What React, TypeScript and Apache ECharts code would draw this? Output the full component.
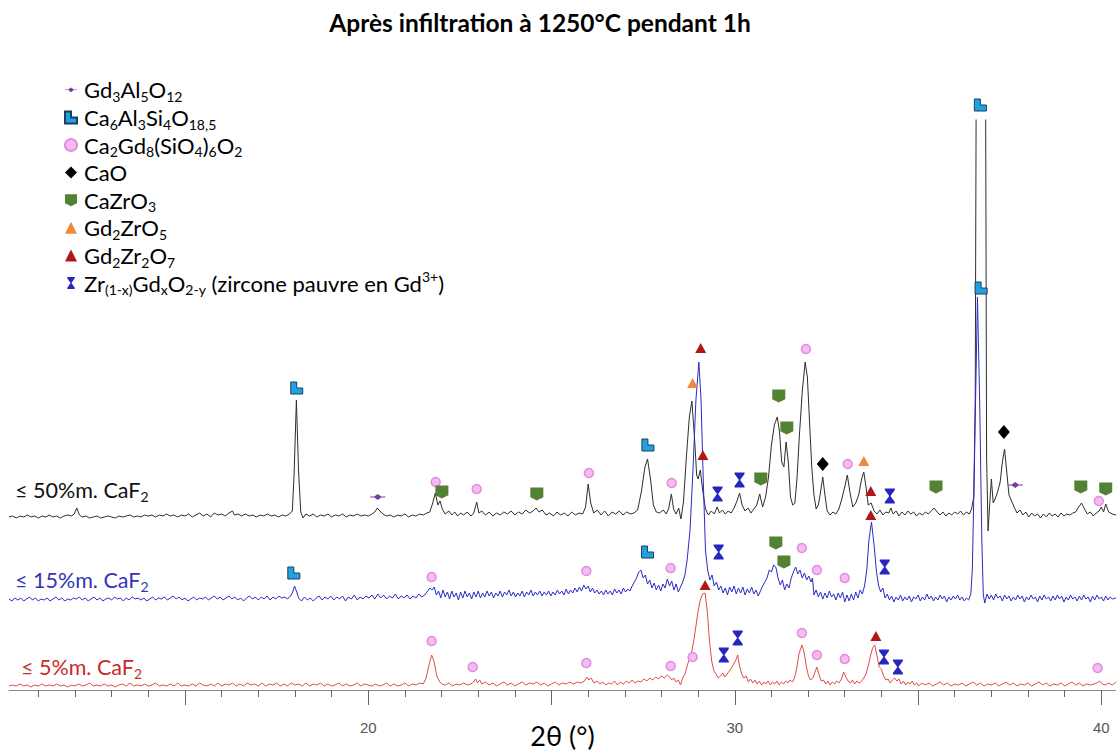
import React, { useEffect, useRef } from 'react';
import * as echarts from 'echarts';

const FONT = 'Lato, "Open Sans", sans-serif';

// vertical offsets of the three stacked patterns (same units as intensities)
const BLACK_OFFSET = 173;
const BLUE_OFFSET = 90;
const RED_OFFSET = 4;

// [2θ, intensity above own baseline]
const trace50: number[][] = [
  [10.2,0],[10.3,1],[10.4,-1],[10.5,1],[10.6,0],[10.7,2],[10.8,0],[10.9,1],[11.0,-1],[11.1,1],[11.2,0],[11.3,2],[11.4,0],[11.5,1],[11.6,-1],[11.7,1],[11.8,2],[11.9,1],[11.98,3],[12.05,9],[12.12,2],[12.2,0],[12.3,1],[12.4,-1],[12.5,0],[12.6,1],[12.7,-1],[12.8,0],[12.9,1],[13.0,0],[13.1,-1],[13.2,1],[13.3,0],[13.4,1],[13.5,2],[13.6,0],[13.7,1],[13.8,0],[13.9,2],[14.0,1],[14.1,2],[14.2,0],[14.3,2],[14.4,1],[14.5,3],[14.6,1],[14.7,2],[14.8,0],[14.9,2],[15.0,1],[15.1,3],[15.2,0],[15.3,2],[15.4,4],[15.5,1],[15.6,3],[15.7,0],[15.8,4],[15.9,2],[16.0,3],[16.1,1],[16.2,4],[16.3,6],[16.35,2],[16.45,3],[16.55,1],[16.65,3],[16.75,1],[16.85,2],[16.95,0],[17.05,2],[17.15,1],[17.25,3],[17.35,1],[17.45,2],[17.55,0],[17.65,2],[17.75,1],[17.85,3],[17.93,6],[17.98,45],[18.04,117],[18.1,45],[18.16,5],[18.22,-1],[18.3,3],
  [18.4,1],[18.5,3],[18.6,0],[18.7,2],[18.8,1],[18.9,3],[19.0,0],[19.1,2],[19.2,1],[19.3,3],[19.4,0],[19.5,2],[19.6,1],[19.7,3],[19.8,1],[19.9,2],[20.0,1],[20.1,3],[20.18,5],[20.25,9],[20.32,6],[20.4,3],[20.5,1],[20.6,2],[20.7,0],[20.8,2],[20.9,1],[21.0,3],[21.1,0],[21.2,2],[21.3,1],[21.4,3],[21.5,2],[21.6,4],[21.68,5],[21.76,14],[21.83,24],[21.9,12],[21.96,16],[22.02,8],[22.1,3],[22.2,6],[22.28,2],[22.36,5],[22.44,1],[22.52,4],[22.6,2],[22.7,5],[22.8,1],[22.88,4],[22.96,15],[23.02,4],[23.1,6],[23.2,2],[23.3,5],[23.4,1],[23.5,4],[23.6,2],[23.7,5],[23.8,3],[23.9,6],[24.0,2],[24.1,5],[24.2,3],[24.3,7],[24.4,4],[24.5,6],[24.58,9],[24.66,5],[24.75,7],[24.85,2],[24.95,4],[25.05,1],[25.15,5],[25.25,2],[25.35,4],[25.45,1],[25.55,5],[25.65,2],[25.75,4],[25.85,3],[25.93,10],[26.0,33],[26.07,14],[26.15,4],[26.25,7],[26.35,2],[26.45,6],[26.55,1],[26.65,5],[26.75,3],[26.85,6],[26.95,2],[27.05,5],[27.15,3],[27.25,4],[27.35,7],[27.45,25],[27.55,50],[27.62,58],[27.7,38],[27.78,12],[27.86,5],[27.95,4],[28.05,7],[28.13,3],[28.2,9],[28.27,23],[28.33,8],[28.4,3],[28.47,9],[28.53,-2],[28.6,15],[28.68,60],[28.76,100],[28.83,116],[28.9,80],[28.96,42],[29.0,38],[29.06,47],[29.12,28],[29.2,8],[29.28,2],[29.36,6],[29.44,3],[29.52,10],[29.58,4],[29.66,7],[29.74,3],[29.82,6],[29.9,4],[29.98,9],[30.06,16],[30.13,24],[30.2,12],[30.28,6],[30.36,9],[30.44,4],[30.52,8],[30.6,12],[30.68,23],[30.76,10],[30.84,20],[30.92,40],[31.0,72],[31.08,92],[31.16,100],[31.22,85],[31.28,55],[31.34,50],[31.4,75],[31.46,55],[31.52,20],[31.58,12],[31.64,14],[31.7,40],[31.76,80],[31.84,125],[31.92,155],[31.98,140],[32.04,95],[32.1,50],[32.16,22],[32.22,8],[32.28,12],[32.34,25],[32.4,40],[32.46,22],[32.52,6],[32.6,2],[32.68,5],[32.76,3],[32.84,8],[32.92,18],[33.0,30],[33.07,42],[33.14,25],[33.22,10],[33.3,14],[33.38,22],[33.46,38],[33.52,45],[33.58,30],[33.64,12],[33.72,14],[33.8,6],[33.88,3],[33.96,7],[34.04,2],[34.12,5],[34.2,4],[34.26,9],[34.32,3],[34.4,6],[34.48,1],[34.56,5],[34.64,2],[34.72,6],[34.8,3],[34.88,5],[34.96,1],[35.04,4],[35.12,2],[35.2,5],[35.28,3],[35.36,6],[35.44,9],[35.52,5],[35.6,2],[35.68,5],[35.76,1],[35.84,4],[35.92,2],[36.0,5],[36.08,3],[36.16,6],[36.24,2],[36.32,5],[36.4,3],[36.46,8],[36.52,20],[36.56,120],[36.6,600],[36.83,600],[36.87,60],[36.91,-14],[36.95,10],[37.0,38],[37.05,14],[37.1,18],[37.17,25],[37.24,35],[37.3,55],[37.36,68],[37.42,45],[37.48,22],[37.55,16],[37.62,10],[37.7,4],[37.78,7],[37.86,2],[37.94,5],[38.02,0],[38.1,4],[38.18,1],[38.26,3],[38.34,-1],[38.42,3],[38.5,0],[38.58,4],[38.66,1],[38.74,3],[38.82,0],[38.9,4],[38.98,1],[39.06,3],[39.14,2],[39.22,4],[39.3,5],[39.38,10],[39.46,14],[39.54,8],[39.62,3],[39.7,5],[39.78,1],[39.86,4],[39.94,6],[40.0,10],[40.06,5],[40.12,13],[40.2,5],[40.3,3],[40.4,2]
];

const trace15: number[][] = [
  [10.2,1],[10.28,-1],[10.36,2],[10.44,0],[10.52,2],[10.6,-1],[10.68,1],[10.76,3],[10.84,0],[10.92,2],[11.0,-1],[11.08,1],[11.16,0],[11.24,2],[11.32,-1],[11.4,1],[11.48,3],[11.56,0],[11.64,2],[11.72,-1],[11.8,1],[11.88,0],[11.96,2],[12.04,1],[12.12,3],[12.2,0],[12.28,2],[12.36,-1],[12.44,1],[12.52,3],[12.6,0],[12.68,2],[12.76,-1],[12.84,1],[12.92,2],[13.0,0],[13.08,3],[13.16,1],[13.24,2],[13.32,-1],[13.4,2],[13.48,0],[13.56,3],[13.64,1],[13.72,2],[13.8,0],[13.88,2],[13.96,-1],[14.04,1],[14.12,3],[14.2,0],[14.28,2],[14.36,1],[14.44,3],[14.52,0],[14.6,2],[14.68,4],[14.76,1],[14.84,3],[14.92,0],[15.0,2],[15.08,-1],[15.16,1],[15.24,3],[15.32,0],[15.4,2],[15.48,1],[15.56,3],[15.64,0],[15.72,2],[15.8,4],[15.88,1],[15.96,3],[16.04,0],[16.12,2],[16.2,4],[16.28,1],[16.36,3],[16.44,0],[16.52,2],[16.6,-1],[16.68,2],[16.76,4],[16.84,1],[16.92,3],[17.0,0],[17.08,3],[17.16,1],[17.24,4],[17.32,0],[17.4,3],[17.48,1],[17.56,4],[17.64,2],[17.72,3],[17.8,1],[17.88,4],[17.94,8],[17.99,14],[18.05,8],[18.1,2],[18.18,-1],[18.26,3],[18.34,0],[18.42,2],[18.5,-1],[18.58,2],[18.66,4],[18.74,0],[18.82,3],[18.9,1],[18.98,4],[19.06,0],[19.14,3],[19.22,1],[19.3,4],[19.38,-1],[19.46,3],[19.54,1],[19.62,5],[19.7,0],[19.78,3],[19.86,1],[19.94,4],[20.02,2],[20.1,5],[20.18,1],[20.26,6],[20.34,2],[20.42,5],[20.5,1],[20.58,4],[20.66,2],[20.74,6],[20.82,1],[20.9,4],[20.98,2],[21.06,5],[21.14,1],[21.22,4],[21.3,2],[21.38,6],[21.46,3],[21.54,5],[21.62,9],[21.68,12],[21.74,10],[21.8,13],[21.86,5],[21.92,9],[21.98,2],[22.04,10],[22.1,3],[22.16,8],[22.22,1],[22.28,9],[22.34,3],[22.4,7],[22.46,0],[22.52,8],[22.58,2],[22.64,9],[22.7,3],[22.76,7],[22.82,1],[22.88,8],[22.94,3],[23.0,9],[23.06,2],[23.12,7],[23.18,3],[23.24,9],[23.3,4],[23.36,8],[23.42,2],[23.48,7],[23.54,4],[23.6,9],[23.66,3],[23.72,8],[23.78,5],[23.84,10],[23.9,4],[23.96,8],[24.02,3],[24.08,7],[24.14,4],[24.2,9],[24.26,3],[24.32,8],[24.38,5],[24.44,10],[24.5,4],[24.56,8],[24.62,5],[24.68,9],[24.74,4],[24.8,8],[24.86,5],[24.92,9],[24.98,4],[25.04,8],[25.1,5],[25.16,10],[25.22,6],[25.28,9],[25.34,5],[25.4,11],[25.46,6],[25.52,10],[25.58,7],[25.64,12],[25.7,8],[25.76,13],[25.82,9],[25.88,15],[25.94,11],[26.0,14],[26.06,8],[26.12,12],[26.18,7],[26.24,10],[26.3,6],[26.36,9],[26.42,5],[26.48,10],[26.54,6],[26.6,9],[26.66,5],[26.72,11],[26.78,7],[26.84,10],[26.9,6],[26.96,12],[27.02,8],[27.08,11],[27.14,9],[27.2,14],[27.26,18],[27.32,22],[27.38,28],[27.44,30],[27.5,22],[27.56,25],[27.62,16],[27.68,20],[27.74,12],[27.8,17],[27.86,10],[27.92,15],[27.98,9],[28.04,16],[28.1,12],[28.16,21],[28.22,14],[28.28,19],[28.34,10],[28.4,16],[28.46,8],[28.52,13],[28.58,18],[28.64,25],[28.7,40],[28.78,70],[28.86,130],[28.94,200],[29.02,238],[29.08,200],[29.14,120],[29.2,50],[29.26,30],[29.32,20],[29.38,25],[29.44,14],[29.5,18],[29.56,10],[29.62,14],[29.68,7],[29.74,12],[29.8,5],[29.86,13],[29.92,8],[29.98,14],[30.04,6],[30.1,12],[30.16,7],[30.22,13],[30.28,5],[30.34,11],[30.4,7],[30.46,13],[30.52,6],[30.58,10],[30.64,4],[30.7,9],[30.76,14],[30.82,18],[30.88,22],[30.94,30],[31.0,28],[31.06,35],[31.12,33],[31.18,22],[31.24,15],[31.3,20],[31.36,10],[31.42,16],[31.48,12],[31.54,22],[31.6,28],[31.66,33],[31.72,26],[31.78,30],[31.84,22],[31.9,27],[31.96,20],[32.02,24],[32.08,18],[32.12,22],[32.16,5],[32.22,10],[32.28,3],[32.34,8],[32.4,1],[32.46,7],[32.52,2],[32.58,9],[32.64,3],[32.7,6],[32.76,0],[32.82,7],[32.88,2],[32.94,8],[33.0,-2],[33.06,5],[33.12,-1],[33.18,6],[33.24,0],[33.3,8],[33.36,2],[33.42,10],[33.48,6],[33.54,14],[33.6,30],[33.66,60],[33.73,78],[33.8,55],[33.86,30],[33.92,15],[33.98,8],[34.04,12],[34.1,2],[34.16,6],[34.22,0],[34.28,4],[34.34,-2],[34.4,3],[34.46,0],[34.52,5],[34.58,-1],[34.64,3],[34.7,0],[34.76,4],[34.82,-2],[34.88,3],[34.94,1],[35.0,5],[35.06,-1],[35.12,3],[35.18,0],[35.24,6],[35.3,1],[35.36,4],[35.42,-1],[35.48,3],[35.54,0],[35.6,5],[35.66,1],[35.72,4],[35.78,-2],[35.84,3],[35.9,0],[35.96,4],[36.02,1],[36.08,5],[36.14,0],[36.2,3],[36.26,-1],[36.32,2],[36.38,0],[36.44,6],[36.48,30],[36.53,120],[36.62,303],[36.68,200],[36.74,60],[36.78,5],[36.82,-3],[36.88,6],[36.94,1],[37.0,5],[37.06,0],[37.12,6],[37.18,2],[37.24,4],[37.3,-1],[37.36,5],[37.42,1],[37.48,4],[37.54,-1],[37.6,3],[37.66,0],[37.72,5],[37.78,1],[37.84,4],[37.9,-2],[37.96,3],[38.02,0],[38.08,5],[38.14,1],[38.2,3],[38.26,-2],[38.32,4],[38.38,0],[38.44,5],[38.5,1],[38.56,3],[38.62,-1],[38.68,4],[38.74,0],[38.8,5],[38.86,1],[38.92,4],[38.98,-2],[39.04,3],[39.1,0],[39.16,5],[39.22,1],[39.28,3],[39.34,-1],[39.4,4],[39.46,0],[39.52,5],[39.58,1],[39.64,3],[39.7,-2],[39.76,4],[39.82,0],[39.88,5],[39.94,1],[40.0,3],[40.06,-1],[40.12,4],[40.18,0],[40.24,3],[40.3,1],[40.4,2]
];

const trace5: number[][] = [
  [10.2,0],[10.3,1],[10.4,0],[10.5,2],[10.6,0],[10.7,1],[10.8,-1],[10.9,1],[11.0,0],[11.1,2],[11.2,0],[11.3,1],[11.4,0],[11.5,2],[11.6,0],[11.7,1],[11.8,-1],[11.9,1],[12.0,0],[12.1,2],[12.2,0],[12.3,1],[12.4,3],[12.5,0],[12.6,1],[12.7,0],[12.8,2],[12.9,0],[13.0,1],[13.1,-1],[13.2,1],[13.3,2],[13.4,0],[13.5,3],[13.6,0],[13.7,1],[13.8,0],[13.9,2],[14.0,0],[14.1,1],[14.2,3],[14.3,0],[14.4,1],[14.5,0],[14.6,2],[14.7,0],[14.8,3],[14.9,0],[15.0,1],[15.1,0],[15.2,2],[15.3,0],[15.4,3],[15.5,1],[15.6,0],[15.7,2],[15.8,0],[15.9,3],[16.0,0],[16.1,2],[16.2,1],[16.3,3],[16.4,0],[16.5,2],[16.6,0],[16.7,3],[16.8,1],[16.9,2],[17.0,0],[17.1,3],[17.2,0],[17.3,2],[17.4,1],[17.5,3],[17.6,0],[17.7,2],[17.8,0],[17.9,3],[18.0,1],[18.1,2],[18.2,0],[18.3,3],[18.4,0],[18.5,2],[18.6,1],[18.7,3],[18.8,0],[18.9,2],[19.0,0],[19.1,1],[19.2,3],[19.3,0],[19.4,2],[19.5,0],[19.6,1],[19.7,3],[19.8,0],[19.9,2],[20.0,1],[20.1,0],[20.2,2],[20.3,0],[20.4,1],[20.5,3],[20.6,0],[20.7,2],[20.8,0],[20.9,1],[21.0,3],[21.1,0],[21.2,2],[21.3,1],[21.4,3],[21.5,2],[21.58,8],[21.65,20],[21.73,31],[21.8,24],[21.87,10],[21.95,4],[22.02,2],[22.1,1],[22.2,3],[22.3,0],[22.4,2],[22.5,1],[22.6,3],[22.7,1],[22.8,2],[22.87,4],[22.93,7],[22.98,3],[23.04,6],[23.1,2],[23.2,4],[23.3,1],[23.4,3],[23.5,0],[23.6,2],[23.7,4],[23.8,1],[23.9,3],[24.0,0],[24.1,2],[24.2,4],[24.3,1],[24.4,3],[24.5,2],[24.6,4],[24.7,1],[24.8,3],[24.9,0],[25.0,2],[25.1,4],[25.2,1],[25.3,3],[25.4,2],[25.5,4],[25.6,2],[25.7,4],[25.8,3],[25.9,5],[25.96,9],[26.02,6],[26.08,8],[26.16,3],[26.24,5],[26.32,2],[26.4,4],[26.48,1],[26.56,3],[26.64,2],[26.72,5],[26.8,1],[26.88,4],[26.96,2],[27.04,5],[27.12,3],[27.2,6],[27.28,3],[27.36,5],[27.44,4],[27.52,7],[27.6,5],[27.68,8],[27.76,6],[27.84,9],[27.92,7],[28.0,10],[28.08,8],[28.16,11],[28.22,9],[28.28,6],[28.34,8],[28.4,4],[28.46,6],[28.52,1],[28.58,8],[28.64,12],[28.7,20],[28.76,27],[28.82,33],[28.88,45],[28.94,60],[29.0,75],[29.06,86],[29.12,92],[29.19,93],[29.25,75],[29.31,45],[29.37,25],[29.43,15],[29.49,12],[29.55,8],[29.61,10],[29.67,13],[29.73,9],[29.79,12],[29.85,15],[29.91,18],[29.97,22],[30.03,26],[30.08,31],[30.13,20],[30.19,12],[30.25,8],[30.31,10],[30.37,4],[30.43,7],[30.49,3],[30.55,6],[30.61,2],[30.67,5],[30.73,1],[30.79,4],[30.85,2],[30.91,5],[30.97,1],[31.03,4],[31.09,2],[31.15,5],[31.21,1],[31.27,4],[31.33,2],[31.39,5],[31.45,3],[31.51,6],[31.57,4],[31.63,8],[31.69,18],[31.75,32],[31.83,41],[31.89,34],[31.95,20],[32.01,10],[32.07,6],[32.13,8],[32.19,14],[32.24,19],[32.3,11],[32.36,5],[32.42,6],[32.48,2],[32.54,5],[32.6,1],[32.66,4],[32.72,2],[32.78,5],[32.84,3],[32.91,7],[32.97,14],[33.03,9],[33.09,5],[33.15,3],[33.21,6],[33.27,2],[33.33,5],[33.39,3],[33.46,5],[33.52,8],[33.58,12],[33.64,20],[33.7,30],[33.76,38],[33.82,41],[33.88,30],[33.94,19],[34.0,17],[34.06,10],[34.12,6],[34.18,7],[34.24,3],[34.3,6],[34.36,8],[34.42,5],[34.48,7],[34.54,2],[34.6,5],[34.66,1],[34.72,4],[34.78,2],[34.84,5],[34.9,1],[34.96,3],[35.02,0],[35.1,3],[35.2,1],[35.3,3],[35.4,0],[35.5,2],[35.6,4],[35.7,1],[35.8,3],[35.9,0],[36.0,2],[36.1,1],[36.2,3],[36.3,0],[36.4,2],[36.5,4],[36.6,1],[36.7,3],[36.8,0],[36.9,2],[37.0,1],[37.1,3],[37.2,0],[37.3,2],[37.4,4],[37.5,1],[37.6,3],[37.7,0],[37.8,2],[37.9,1],[38.0,3],[38.1,0],[38.2,2],[38.3,4],[38.4,1],[38.5,3],[38.6,0],[38.7,2],[38.8,1],[38.9,3],[39.0,0],[39.1,2],[39.2,4],[39.3,1],[39.4,3],[39.5,0],[39.6,2],[39.7,1],[39.8,2],[39.88,3],[39.95,5],[40.02,2],[40.1,1],[40.2,3],[40.3,1],[40.4,4]
];

// axis ticks
const minorTicks = [11,12,13,14,16,17,18,19,21,22,23,24,26,27,28,29,31,32,33,34,36,37,38,39];
const majorTicks = [15,20,25,30,35,40];
const tickLabels = [20,30,40];

// phase markers: [2θ, level]
const gd3al5o12 = [[20.26,193],[37.65,205]];
const ca6al3si4o = [[18.05,302],[27.63,245],[36.7,585],[17.97,117],[27.62,138],[36.72,402]];
const ca2gd8sio4 = [
  [21.84,208],[22.96,201],[26.02,217],[28.28,207],[31.94,341],[33.08,226],[39.93,189],
  [21.73,113],[25.95,119],[28.25,122],[31.83,142],[32.24,120],[33.0,112],
  [21.73,49],[22.85,23],[25.95,27],[28.25,24],[28.85,33],[31.83,57],[32.24,35],[33.0,31],[39.9,22]
];
const caoPts = [[32.4,226],[37.34,258]];
const cazro3 = [[22.01,198],[24.6,196],[30.71,211],[31.2,294],[31.42,262],[35.49,203],[39.44,203],[40.12,201],[31.12,147],[31.34,128]];
const gd2zro5 = [[28.85,307],[33.52,229]];
const gd2zr2o7 = [[29.13,235],[33.71,199],[29.07,342],[33.71,175],[29.19,105],[33.85,54]];
const zrgdo = [[29.53,196],[30.13,210],[34.23,194],[29.56,138],[34.09,123],[29.7,35],[30.08,52],[34.07,33],[34.45,23]];

const PHASES = ['Gd3Al5O12','Ca6Al3Si4O18,5','Ca2Gd8(SiO4)6O2','CaO','CaZrO3','Gd2ZrO5','Gd2Zr2O7','Zr(1-x)GdxO2-y'];
const LEGEND_LABELS = [
  '{g| }{m|Gd}{s|3}{m|Al}{s|5}{m|O}{s|12}',
  '{g| }{m|Ca}{s|6}{m|Al}{s|3}{m|Si}{s|4}{m|O}{s|18,5}',
  '{g| }{m|Ca}{s|2}{m|Gd}{s|8}{m|(SiO}{s|4}{m|)}{s|6}{m|O}{s|2}',
  '{g| }{m|CaO}',
  '{g| }{m|CaZrO}{s|3}',
  '{g| }{m|Gd}{s|2}{m|ZrO}{s|5}',
  '{g| }{m|Gd}{s|2}{m|Zr}{s|2}{m|O}{s|7}',
  '{g| }{m|Zr}{s|(1-x)}{m|Gd}{s|x}{m|O}{s|2-y}{m| (zircone pauvre en Gd}{p|3+}{m|)}'
];

const SYM_LOZ = 'path://M0,2.6 L4,2.6 L7.5,0 L11,2.6 L15,2.6 L15,3.4 L11,3.4 L7.5,6 L4,3.4 L0,3.4 Z';
const SYM_L = 'path://M0,0 L5,0 L5,5 L10,5 L10,10 L0,10 Z';
const SYM_SHIELD = 'path://M0,0 L10,0 L10,7.5 L5,10 L0,7.5 Z';
const SYM_HOUR = 'path://M0,0 L10,0 L10,1.6 L5.6,8 L10,14.4 L10,16 L0,16 L0,14.4 L4.4,8 L0,1.6 Z';

export default function App() {
  const ref = useRef<HTMLDivElement>(null);
  useEffect(() => {
    if (!ref.current) return;
    const chart = echarts.init(ref.current, undefined, { renderer: 'svg' });
    const traceSeries = (name: string, data: number[][], off: number, color: string) => ({
      name, type: 'line', data: data.map(([x, y]) => [x, y + off]),
      showSymbol: false, symbol: 'none', silent: true, clip: true, z: 2,
      lineStyle: { color, width: 1 }, xAxisIndex: 0, yAxisIndex: 0,
    });
    const markerSeries = (name: string, data: number[][], symbol: string, size: any, color: string, border?: string, bw = 0) => ({
      name, type: 'scatter', data, symbol, symbolSize: size, clip: false, z: 5, silent: true,
      itemStyle: { color, borderColor: border || color, borderWidth: bw, opacity: 1 },
      xAxisIndex: 0, yAxisIndex: 0,
    });
    const LH = 27.6;
    const labelRich = (c: string) => ({
      m: { fontSize: 21.5, lineHeight: 26, fontFamily: FONT, fill: c },
      s: { fontSize: 14, lineHeight: 14, verticalAlign: 'bottom', fontFamily: FONT, fill: c },
    });
    const option: any = {
      animation: false,
      grid: { left: 9, right: 0, top: 120, bottom: 63, containLabel: false, outerBoundsMode: 'none' },
      xAxis: [
        {
          type: 'value', min: 10.2, max: 40.4, position: 'bottom',
          axisLine: { show: true, onZero: false, lineStyle: { color: '#8a8a8a', width: 1 } },
          axisTick: { show: true, length: 7, customValues: minorTicks, lineStyle: { color: '#666', width: 1 } },
          axisLabel: { show: false }, splitLine: { show: false },
        },
        {
          type: 'value', min: 10.2, max: 40.4, position: 'bottom',
          axisLine: { show: false, onZero: false },
          axisTick: { show: true, length: 15, customValues: majorTicks, lineStyle: { color: '#666', width: 1 } },
          axisLabel: { show: true, customValues: tickLabels, fontSize: 15, color: '#555', margin: 30, fontFamily: '"Liberation Sans", Arial, sans-serif' },
          splitLine: { show: false },
          name: '2θ (°)', nameLocation: 'middle', nameGap: 32, nameMoveOverlap: false,
          nameTextStyle: { fontSize: 27, color: '#000', fontFamily: FONT },
        },
      ],
      yAxis: { type: 'value', min: 0, max: 570, show: false },
      legend: {
        orient: 'vertical', left: 59, top: 71, itemWidth: 12, itemHeight: 12, itemGap: 0,
        selectedMode: false, data: PHASES,
        formatter: (name: string) => LEGEND_LABELS[PHASES.indexOf(name)],
        textStyle: {
          fontFamily: FONT, fontSize: 22, color: '#000', lineHeight: LH,
          rich: {
            g: { width: 2, fontSize: 10, lineHeight: LH },
            m: { fontSize: 22, lineHeight: LH, fontFamily: FONT, color: '#000' },
            s: { fontSize: 14, lineHeight: 16, verticalAlign: 'bottom', fontFamily: FONT, color: '#000' },
            p: { fontSize: 14, lineHeight: 16, verticalAlign: 'top', fontFamily: FONT, color: '#000' },
          },
        },
      },
      graphic: [
        { type: 'text', x: 540, y: 22, style: { text: 'Après infiltration à 1250°C pendant 1h', fontSize: 24.5, fontWeight: 'bold', fontFamily: FONT, fill: '#000', align: 'center', verticalAlign: 'middle' } },
        { type: 'text', x: 15, y: 490, style: { text: '{m|≤ 50%m. CaF}{s|2}', fill: '#111', verticalAlign: 'middle', rich: labelRich('#111') } },
        { type: 'text', x: 15, y: 580, style: { text: '{m|≤ 15%m. CaF}{s|2}', fill: '#3434b8', verticalAlign: 'middle', rich: labelRich('#3434b8') } },
        { type: 'text', x: 21, y: 667, style: { text: '{m|≤ 5%m. CaF}{s|2}', fill: '#cc2a2a', verticalAlign: 'middle', rich: labelRich('#cc2a2a') } },
      ],
      series: [
        traceSeries('≤ 50%m. CaF2', trace50, BLACK_OFFSET, '#2e2e2e'),
        traceSeries('≤ 15%m. CaF2', trace15, BLUE_OFFSET, '#2c2cc4'),
        traceSeries('≤ 5%m. CaF2', trace5, RED_OFFSET, '#e04a4a'),
        markerSeries(PHASES[0], gd3al5o12, SYM_LOZ, [15, 6], '#7a3c9c'),
        markerSeries(PHASES[1], ca6al3si4o, SYM_L, 12, '#22a0e0', '#1b3f5f', 1),
        markerSeries(PHASES[2], ca2gd8sio4, 'circle', 9, '#f6bcf2', '#e08ce0', 1.5),
        markerSeries(PHASES[3], caoPts, 'diamond', [12, 14], '#000000'),
        markerSeries(PHASES[4], cazro3, SYM_SHIELD, [13, 13], '#548235'),
        markerSeries(PHASES[5], gd2zro5, 'triangle', [11, 10], '#f0883a'),
        markerSeries(PHASES[6], gd2zr2o7, 'triangle', [11, 10], '#b01818'),
        markerSeries(PHASES[7], zrgdo, SYM_HOUR, [10, 15], '#2626c0'),
      ],
    };
    chart.setOption(option);
    return () => chart.dispose();
  }, []);
  return <div ref={ref} style={{ position: 'fixed', left: 0, top: 0, width: 1116, height: 753, background: '#fff' }} />;
}
